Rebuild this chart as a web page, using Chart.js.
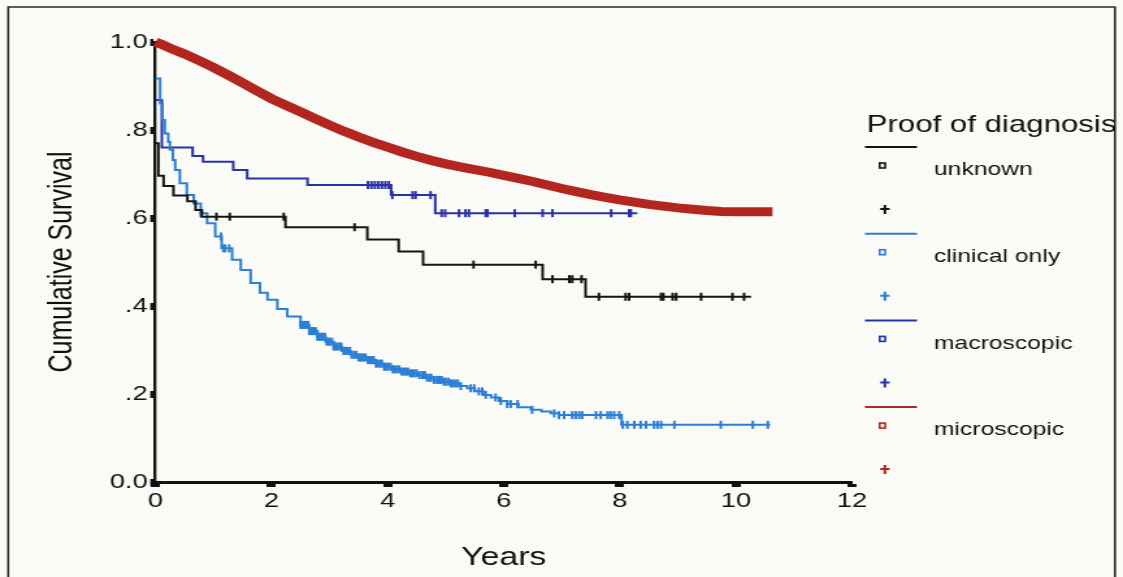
<!DOCTYPE html>
<html><head><meta charset="utf-8">
<script src="https://cdn.jsdelivr.net/npm/chart.js@4.4.1/dist/chart.umd.min.js"></script>
<style>
html,body{margin:0;padding:0;background:#fafaf6;overflow:hidden;}
</style></head><body>
<canvas id="c" width="864" height="577" style="display:block;width:1123px;height:577px;"></canvas>
<script>
// ---------- data ----------
const legendTitle = 'Proof of diagnosis';
const seriesNames = ['unknown', 'clinical only', 'macroscopic', 'microscopic'];
const seriesColors = ['#141414', '#2b7fd6', '#2a31a8', '#b3261f'];
const xTitle = 'Years';
const yTitle = 'Cumulative Survival';
const xTickLabels = ['0', '2', '4', '6', '8', '10', '12'];
const yTickLabels = ['0.0', '.2', '.4', '.6', '.8', '1.0'];

// unknown
const unknownTimes = [0, 0.05, 0.14, 0.31, 0.55, 0.69, 0.80, 2.24, 3.65, 4.19, 4.61, 6.67, 7.41, 10.26];
const unknownSurv  = [0.77, 0.696, 0.673, 0.651, 0.638, 0.618, 0.603, 0.579, 0.551, 0.524, 0.494, 0.461, 0.421, 0.421];
const unknownCensor = [1.05, 1.28, 2.21, 3.43, 5.48, 6.55, 6.84, 7.13, 7.18, 7.34, 7.64, 8.10, 8.16, 8.71, 8.75, 8.91, 8.97, 9.40, 9.94, 10.14];

// clinical only
const clinicalTimes = [0, 0.08, 0.12, 0.16, 0.22, 0.25, 0.30, 0.34, 0.42, 0.54, 0.66, 0.78, 0.89, 1.03, 1.14, 1.32, 1.47, 1.64, 1.80, 1.93, 2.10, 2.27, 2.50, 2.65, 2.79, 2.93, 3.07, 3.21, 3.36, 3.50, 3.65, 3.80, 3.94, 4.08, 4.22, 4.37, 4.51, 4.65, 4.80, 4.95, 5.09, 5.23, 5.37, 5.50, 5.65, 5.78, 5.92, 6.06, 6.25, 6.47, 6.65, 6.81, 6.95, 8.03, 10.59];
const clinicalSurv  = [0.917, 0.86, 0.823, 0.792, 0.773, 0.755, 0.732, 0.709, 0.679, 0.652, 0.633, 0.611, 0.588, 0.558, 0.531, 0.505, 0.482, 0.452, 0.430, 0.414, 0.393, 0.376, 0.357, 0.343, 0.330, 0.319, 0.308, 0.298, 0.289, 0.283, 0.277, 0.269, 0.262, 0.256, 0.251, 0.247, 0.243, 0.237, 0.232, 0.228, 0.224, 0.218, 0.213, 0.206, 0.198, 0.192, 0.184, 0.177, 0.170, 0.164, 0.160, 0.156, 0.152, 0.130, 0.130];
const clinicalCensor = [0.78, 1.13, 1.17, 1.20, 1.27, 2.50, 2.53, 2.55, 2.58, 2.60, 2.63, 2.65, 2.68, 2.70, 2.73, 2.76, 2.79, 2.82, 2.85, 2.88, 2.92, 2.95, 2.98, 3.00, 3.04, 3.07, 3.10, 3.13, 3.17, 3.20, 3.24, 3.28, 3.31, 3.35, 3.38, 3.42, 3.46, 3.50, 3.53, 3.55, 3.59, 3.62, 3.66, 3.70, 3.73, 3.76, 3.80, 3.83, 3.87, 3.90, 3.94, 3.97, 4.01, 4.05, 4.09, 4.12, 4.16, 4.20, 4.24, 4.28, 4.31, 4.35, 4.39, 4.42, 4.46, 4.50, 4.55, 4.60, 4.64, 4.68, 4.72, 4.75, 4.80, 4.85, 4.89, 4.93, 4.97, 5.00, 5.05, 5.09, 5.13, 5.17, 5.21, 5.26, 5.43, 5.49, 5.57, 5.63, 5.69, 5.86, 5.95, 6.06, 6.12, 6.24, 6.49, 6.87, 6.95, 7.04, 7.18, 7.24, 7.30, 7.35, 7.59, 7.67, 7.79, 7.84, 7.90, 7.99, 8.05, 8.13, 8.25, 8.36, 8.45, 8.59, 8.65, 8.71, 8.94, 9.74, 10.29, 10.55];

// macroscopic
const macroTimes = [0, 0.11, 0.64, 0.82, 1.34, 1.58, 2.62, 4.06, 4.82, 8.30];
const macroSurv  = [0.868, 0.76, 0.741, 0.728, 0.709, 0.690, 0.675, 0.652, 0.611, 0.611];
const macroCensor = [3.66, 3.72, 3.78, 3.84, 3.90, 3.96, 4.02, 4.08, 4.43, 4.48, 4.74, 4.93, 4.99, 5.23, 5.34, 5.40, 5.69, 5.72, 6.19, 6.67, 6.84, 7.85, 8.16, 8.19];

// microscopic
const microTimes = [0, 0.1, 0.25, 0.5, 0.75, 1.0, 1.25, 1.5, 1.75, 2.0, 2.25, 2.5, 2.75, 3.0, 3.25, 3.5, 3.75, 4.0, 4.25, 4.5, 4.75, 5.0, 5.25, 5.5, 5.75, 6.0, 6.25, 6.5, 6.75, 7.0, 7.25, 7.5, 7.75, 8.0, 8.25, 8.5, 8.75, 9.0, 9.25, 9.5, 9.75, 10.0, 10.63];
const microSurv  = [1.0, 0.995, 0.986, 0.973, 0.958, 0.942, 0.925, 0.907, 0.889, 0.871, 0.856, 0.841, 0.826, 0.811, 0.797, 0.784, 0.772, 0.761, 0.750, 0.740, 0.731, 0.723, 0.716, 0.710, 0.704, 0.697, 0.690, 0.683, 0.675, 0.667, 0.660, 0.653, 0.647, 0.641, 0.636, 0.631, 0.627, 0.623, 0.620, 0.617, 0.615, 0.614, 0.614];
const microCensor = [];

// ---------- build ----------
const FONT = '"Liberation Sans", Arial, sans-serif';
const series = [
  {t: unknownTimes, s: unknownSurv, c: unknownCensor, w: 2, step: true},
  {t: clinicalTimes, s: clinicalSurv, c: clinicalCensor, w: 2, step: true},
  {t: macroTimes, s: macroSurv, c: macroCensor, w: 2, step: true},
  {t: microTimes, s: microSurv, c: microCensor, w: 9, step: false}
];
function survAt(times, surv, t) {
  let v = surv[0];
  for (let i = 0; i < times.length; i++) { if (times[i] <= t) v = surv[i]; else break; }
  return v;
}
const datasets = [];
series.forEach((sr, i) => {
  datasets.push({
    label: seriesNames[i] + ' censored',
    data: sr.c.map(t => ({x: t, y: survAt(sr.t, sr.s, t)})),
    showLine: false, pointStyle: 'line', rotation: 90, pointRadius: 4,
    pointBorderWidth: 2, pointBorderColor: seriesColors[i], pointBackgroundColor: seriesColors[i],
    clip: false, order: i
  });
  datasets.push({
    label: seriesNames[i],
    data: sr.t.map((t, k) => ({x: t, y: sr.s[k]})),
    stepped: sr.step, borderColor: seriesColors[i], borderWidth: sr.w, pointRadius: 0,
    fill: false, clip: false, order: i, borderCapStyle: 'butt'
  });
});

const decor = {
  id: 'decor',
  beforeDraw(chart) {
    const ctx = chart.ctx;
    ctx.save();
    ctx.fillStyle = '#fafaf6';
    ctx.fillRect(0, 0, chart.width, chart.height);
    ctx.strokeStyle = '#2a2a2a';
    ctx.lineWidth = 1.6;
    ctx.beginPath();
    ctx.moveTo(6.3, 600); ctx.lineTo(6.3, 7); ctx.lineTo(857.8, 7); ctx.lineTo(857.8, 600);
    ctx.stroke();
    ctx.restore();
  },
  afterDraw(chart) {
    const ctx = chart.ctx;
    ctx.save();
    ctx.fillStyle = '#111';
    ctx.textAlign = 'left';
    ctx.textBaseline = 'alphabetic';
    ctx.font = '24px ' + FONT;
    ctx.fillText(legendTitle, 666.8, 131.5);
    seriesNames.forEach((name, i) => {
      const y0 = 147 + 86.7 * i;
      const col = seriesColors[i];
      ctx.strokeStyle = col;
      ctx.lineWidth = 2;
      ctx.beginPath(); ctx.moveTo(665.5, y0); ctx.lineTo(705.5, y0); ctx.stroke();
      ctx.lineWidth = 1.6;
      ctx.strokeRect(676.8, y0 + 16, 4.2, 5);
      ctx.fillStyle = '#111';
      ctx.font = '19px ' + FONT;
      ctx.textBaseline = 'middle';
      ctx.fillText(name, 718.5, y0 + 23);
      ctx.lineWidth = 2;
      ctx.beginPath();
      ctx.moveTo(677.2, y0 + 62); ctx.lineTo(684.4, y0 + 62);
      ctx.moveTo(680.8, y0 + 58); ctx.lineTo(680.8, y0 + 67);
      ctx.stroke();
    });
    ctx.restore();
  }
};

new Chart(document.getElementById('c'), {
  type: 'line',
  data: {datasets},
  plugins: [decor],
  options: {
    responsive: false, animation: false, devicePixelRatio: 1, events: [],
    layout: {padding: {left: 29, right: 208.5, top: 42, bottom: 0}},
    plugins: {legend: {display: false}, tooltip: {enabled: false}},
    scales: {
      x: {
        type: 'linear', min: 0, max: 12,
        ticks: {stepSize: 2, autoSkip: false, maxRotation: 0, padding: 2, color: '#111',
                font: {family: FONT, size: 21}, callback: (v, i) => xTickLabels[i]},
        grid: {drawOnChartArea: false, drawTicks: true, tickLength: 5, tickWidth: 7, tickColor: '#111'},
        border: {display: true, color: '#111', width: 3},
        title: {display: true, text: xTitle, color: '#111', font: {family: FONT, size: 26}, padding: {top: 4, bottom: 4}},
        afterFit: s => { s.height = 95; }
      },
      y: {
        type: 'linear', min: 0, max: 1,
        ticks: {stepSize: 0.2, padding: 2, color: '#111',
                font: {family: FONT, size: 21}, callback: (v, i) => yTickLabels[i]},
        grid: {drawOnChartArea: false, drawTicks: true, tickLength: 4, tickWidth: 7, tickColor: '#111'},
        border: {display: true, color: '#111', width: 2.3},
        title: {display: true, text: yTitle, color: '#111', font: {family: FONT, size: 25}, padding: {top: 4, bottom: 4}},
        afterFit: s => { s.width = 90.6; }
      }
    }
  }
});
</script>
</body></html>
